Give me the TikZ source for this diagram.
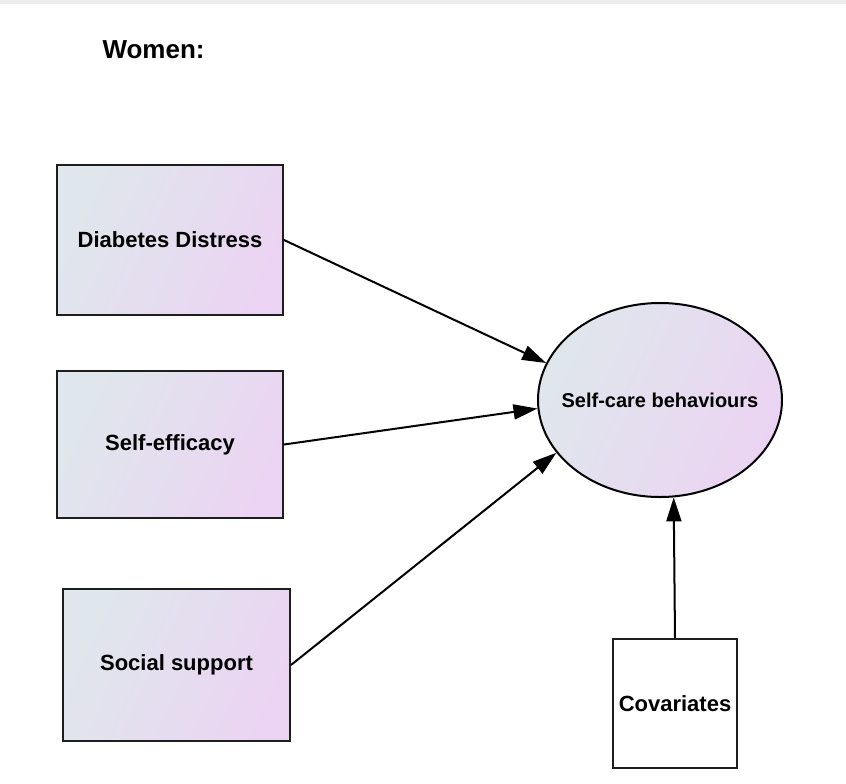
\documentclass[tikz,border=0pt]{standalone}
\usepackage{fontspec}
\setmainfont{Liberation Sans}
\usetikzlibrary{arrows.meta,shapes.geometric}

\definecolor{fillA}{RGB}{223,231,236}
\definecolor{fillB}{RGB}{235,212,243}
\definecolor{edgecol}{RGB}{30,30,30}

\tikzset{
  varbox/.style={draw=edgecol, line width=2pt, rectangle, inner sep=0pt,
    top color=fillA, bottom color=fillB, shading angle=65,
    font=\fontsize{22}{26}\selectfont\bfseries},
  plainbox/.style={draw=edgecol, line width=2pt, rectangle, inner sep=0pt,
    fill=white, font=\fontsize{22}{26}\selectfont\bfseries},
  outcome/.style={draw=black, line width=2pt, ellipse, inner sep=0pt,
    top color=fillA, bottom color=fillB, shading angle=65,
    minimum width=244pt, minimum height=194pt},
  outcometext/.style={font=\fontsize{20}{24}\selectfont\bfseries},
  path/.style={line width=2pt, -{Triangle[length=24pt,width=15pt]}}
}

\begin{document}
\begin{tikzpicture}[x=1pt,y=-1pt]
  \useasboundingbox (0,0) rectangle (846,784);
  \fill[white] (0,0) rectangle (846,784);
  % thin grey strip along the top edge
  \fill[gray!14] (0,0) rectangle (846,4);

  \node[anchor=west, font=\fontsize{26}{30}\selectfont\bfseries] (title) at (99,50) {Women:};

  \node[varbox, minimum width=226pt, minimum height=150pt] (dd) at (170,240) {Diabetes Distress};
  \node[varbox, minimum width=226pt, minimum height=147pt] (se) at (170,444.5) {Self-efficacy};
  \node[varbox, minimum width=227pt, minimum height=152pt] (ss) at (176.5,665) {Social support};
  \node[plainbox, minimum width=124pt, minimum height=129pt] (cov) at (675,703.5) {Covariates};

  % outcome ellipse, sized independently of its label
  \node[outcome] (scb) at (660,400) {};
  \node[outcometext] (scblabel) at (scb.center) {Self-care behaviours};

  \draw[path] (dd.east) -- (scb.162.8);
  \draw[path] (se.east) -- (scb.184.8);
  \draw[path] (ss.east) -- (scb.207.2);
  \draw[path] (cov.north) -- (scb.278.85);
\end{tikzpicture}
\end{document}
